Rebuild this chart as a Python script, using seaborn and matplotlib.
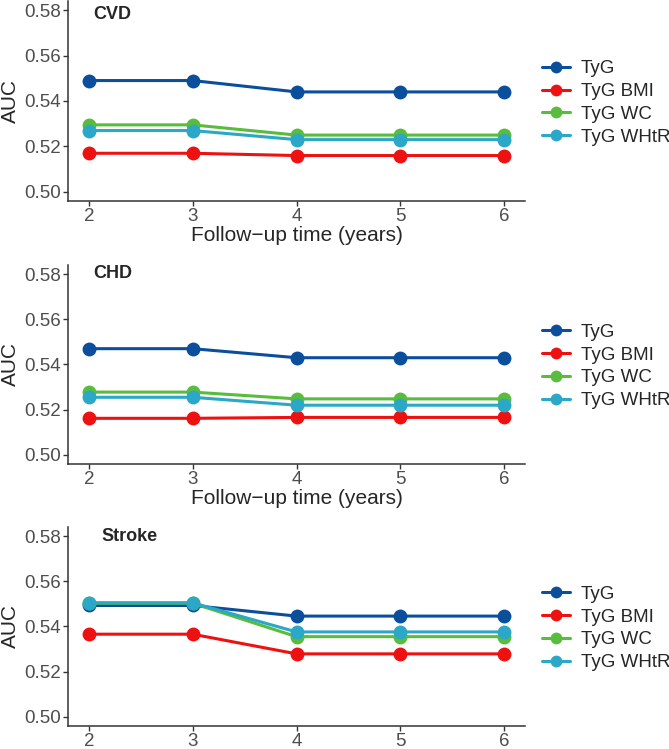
import pandas as pd
import matplotlib.pyplot as plt
import seaborn as sns

years = [2, 3, 4, 5, 6]
series = ["TyG", "TyG BMI", "TyG WC", "TyG WHtR"]
colors = ["#0B4F9C", "#EE1111", "#58BC3D", "#2BA7C8"]

cvd_tyg = [0.549, 0.549, 0.544, 0.544, 0.544]
cvd_bmi = [0.517, 0.517, 0.516, 0.516, 0.516]
cvd_wc = [0.5295, 0.5295, 0.525, 0.525, 0.525]
cvd_whtr = [0.527, 0.527, 0.523, 0.523, 0.523]

chd_tyg = [0.547, 0.547, 0.543, 0.543, 0.543]
chd_bmi = [0.5162, 0.5162, 0.5166, 0.5166, 0.5166]
chd_wc = [0.5278, 0.5278, 0.5248, 0.5248, 0.5248]
chd_whtr = [0.5255, 0.5255, 0.522, 0.522, 0.522]

stroke_tyg = [0.5493, 0.5493, 0.5446, 0.5446, 0.5446]
stroke_bmi = [0.5366, 0.5366, 0.5279, 0.5279, 0.5279]
stroke_wc = [0.5503, 0.5503, 0.5355, 0.5355, 0.5355]
stroke_whtr = [0.5505, 0.5505, 0.5376, 0.5376, 0.5376]

panels = [
    ("CVD", [cvd_tyg, cvd_bmi, cvd_wc, cvd_whtr], 2.04, 0.5818, True),
    ("CHD", [chd_tyg, chd_bmi, chd_wc, chd_whtr], 2.04, 0.5840, True),
    ("Stroke", [stroke_tyg, stroke_bmi, stroke_wc, stroke_whtr], 2.125, 0.5835, False),
]


def to_long(values):
    rows = []
    for name, vals in zip(series, values):
        for yr, v in zip(years, vals):
            rows.append({"year": yr, "auc": v, "index": name})
    return pd.DataFrame(rows)


sns.set_style("ticks")
plt.rcParams["font.family"] = ["Liberation Sans", "DejaVu Sans"]

fig = plt.figure(figsize=(6.69, 7.49), dpi=100)
W, H = 669, 749
boxes = [(1, 201), (265, 464), (527, 726)]

for (title, values, tx, ty, show_xlabel), (top, bottom) in zip(panels, boxes):
    ax = fig.add_axes([68 / W, (H - bottom) / H, (525 - 68) / W, (bottom - top) / H])
    df = to_long(values)
    sns.lineplot(
        data=df, x="year", y="auc", hue="index", hue_order=series,
        palette=colors, marker="o", markersize=10, markeredgewidth=0,
        linewidth=2.2, ax=ax,
    )
    ax.set_xlim(1.8, 6.2)
    ax.set_ylim(0.496, 0.584)
    ax.set_xticks(years)
    ax.set_yticks([0.50, 0.52, 0.54, 0.56, 0.58])
    ax.set_yticklabels(["0.50", "0.52", "0.54", "0.56", "0.58"])
    ax.tick_params(labelsize=13.5, labelcolor="#4D4D4D", color="#333333",
                   length=3.5, width=1, pad=1.5)
    for s in ["left", "bottom"]:
        ax.spines[s].set_color("#333333")
        ax.spines[s].set_linewidth(1.1)
    sns.despine(ax=ax)
    ax.set_ylabel("AUC", fontsize=15, labelpad=3)
    if show_xlabel:
        ax.set_xlabel("Follow\u2212up time (years)", fontsize=15, labelpad=1)
    else:
        ax.set_xlabel("")
    ax.text(tx, ty, title, fontsize=13, fontweight="bold", va="top", ha="left")
    ax.legend(
        title=None, frameon=False, fontsize=13.5, loc="center left",
        bbox_to_anchor=(1.02, 0.49), handlelength=1.5, handletextpad=0.6,
        labelspacing=0.3, borderaxespad=0, markerscale=0.85,
    )

fig.savefig("out.png", dpi=100)
